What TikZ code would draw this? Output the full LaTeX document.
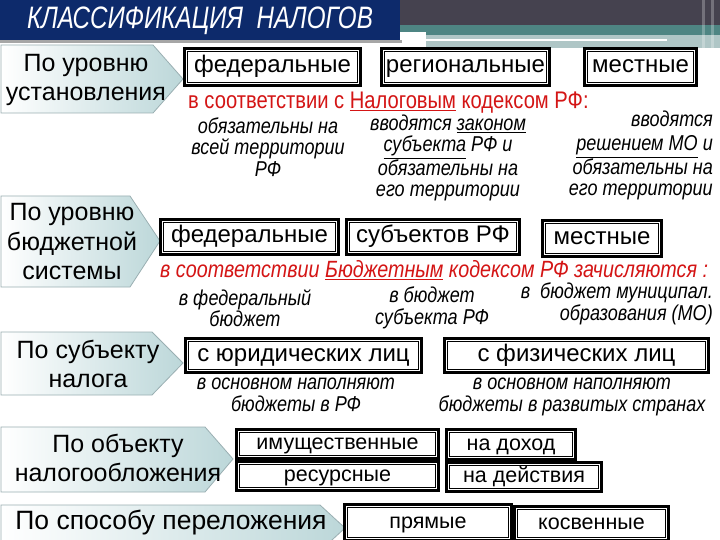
\documentclass[tikz,border=0pt]{standalone}
\usepackage{fontspec}
\setmainfont{Liberation Sans}
\newfontfamily\narrowf[FakeStretch=0.84]{Liberation Sans}
\newfontfamily\titlef[FakeStretch=0.78]{Liberation Sans}
\usetikzlibrary{calc}
\definecolor{navy}{HTML}{0D2A6B}
\definecolor{bandgray}{HTML}{45424F}
\definecolor{bandteal}{HTML}{4E8583}
\definecolor{bandlight}{HTML}{AFC6C6}
\definecolor{redtxt}{HTML}{D41515}
\definecolor{labfill}{HTML}{BCD7D9}
\definecolor{labdraw}{HTML}{9AAFB2}
\tikzset{
  boxn/.style={rectangle, draw=black, line width=0.8pt, fill=white, inner sep=0pt, text height=17pt, text depth=5pt, font=\fontsize{24}{26}\selectfont},
  boxs/.style={boxn, text height=15.5pt, text depth=4.5pt, font=\fontsize{21.5}{24}\selectfont},
  labtxt/.style={align=center, font=\fontsize{25}{29.5}\selectfont, inner sep=0pt},
  labshape/.style={draw=labdraw, line width=0.8pt, left color=white, right color=labfill},
  redn/.style={text=redtxt, inner sep=0pt, font=\narrowf\fontsize{24}{26}\selectfont},
  itn/.style={inner sep=0pt, font=\narrowf\itshape\fontsize{21.5}{21.5}\selectfont},
  outerfr/.style={line width=3pt, draw=black},
}
\begin{document}
\begin{tikzpicture}[x=1pt,y=-1pt]
\useasboundingbox (0,0) rectangle (720,540);
\fill[white] (0,0) rectangle (720,540);
% header
\fill[bandgray] (400,0) rectangle (720,25);
\fill[bandteal] (400,25) rectangle (720,35);
\fill[bandlight] (426,35) rectangle (720,48);
\fill[white] (426,39) rectangle (667,41);
\fill[white] (400,32) rectangle (426,48);
\fill[white,opacity=0.25] (702,0) rectangle (705,48);
\fill[white,opacity=0.25] (711,0) rectangle (714,48);
\fill[black!35] (0,40) rectangle (402,43);
\fill[navy] (0,0) rectangle (400,40);
\node[text=white, inner sep=0pt, font=\titlef\itshape\fontsize{31}{32}\selectfont] (title) at (200,21) {КЛАССИФИКАЦИЯ\ \ НАЛОГОВ};

% category labels
\shade[labshape] (1,45) -- (153,45) -- (183,79) -- (153,113) -- (1,113) -- cycle;
\node[labtxt] (lab1) at (86,80) {По уровню\\установления};
\shade[labshape] (1,196) -- (130,196) -- (160,241) -- (130,287) -- (1,287) -- cycle;
\node[labtxt] (lab2) at (72,242) {По уровню\\бюджетной\\системы};
\shade[labshape] (1,332) -- (152,332) -- (183,363) -- (152,395) -- (1,395) -- cycle;
\node[labtxt] (lab3) at (88,364) {По субъекту\\налога};
\shade[labshape] (1,427) -- (205,427) -- (233,459) -- (205,492) -- (1,492) -- cycle;
\node[labtxt] (lab4) at (118,458) {По объекту\\налогообложения};
\shade[labshape] (1,505) -- (320,505) -- (345,528) -- (320,551) -- (1,551) -- cycle;
\node[labtxt, font=\fontsize{26.5}{29.5}\selectfont] (lab5) at (171,523) {По способу переложения};

% row 1
\node[boxn, minimum width=170, minimum height=31] (f1) at (272.5,67) {федеральные};
\node[boxn, minimum width=162, minimum height=31] (r1) at (465.5,67) {региональные};
\node[boxn, minimum width=106, minimum height=31] (m1) at (640.5,67) {местные};
\node[redn, anchor=west] (red1) at (188,103) {в соответствии с \underline{Налоговым} кодексом РФ:};
\node[itn, align=center] (t11) at (268,147) {обязательны на\\всей территории\\РФ};
\node[itn, align=center] (t12) at (448,158) {вводятся \underline{законом}\\\underline{субъекта} РФ и\\обязательны на\\его территории};
\node[itn, anchor=east] (t13a) at (713,119) {вводятся};
\node[itn, align=right, anchor=east] (t13) at (713,168) {\underline{решением МО} и\\обязательны на\\его территории};

% row 2
\node[boxn, minimum width=172, minimum height=29] (f2) at (249.5,237) {федеральные};
\node[boxn, minimum width=167, minimum height=29] (s2) at (433,237) {субъектов РФ};
\node[boxn, minimum width=113, minimum height=30] (m2) at (602,238.5) {местные};
\node[redn, font=\narrowf\itshape\fontsize{23.5}{25}\selectfont, anchor=west] (red2) at (160,270) {в соответствии \underline{Бюджетным} кодексом РФ зачисляются :};
\node[itn, align=center] (t21) at (245,308) {в федеральный\\бюджет};
\node[itn, align=center] (t22) at (432,308) {в бюджет\\субъекта РФ};
\node[itn, align=right, anchor=east] (t23) at (713,304) {в\ \ бюджет муниципал.\\образования (МО)};

% row 3
\node[boxn, minimum width=230, minimum height=28] (ju) at (303.5,355.5) {с юридических лиц};
\node[boxn, minimum width=258, minimum height=28] (fi) at (576.5,355.5) {с физических лиц};
\node[itn, align=center] (t31) at (296,395) {в основном наполняют\\бюджеты в РФ};
\node[itn, align=center] (t32) at (572,397) {в основном наполняют\\бюджеты в развитых странах};

% row 4
\node[boxs, minimum width=196, minimum height=23] (im) at (337.5,444) {имущественные};
\node[boxs, minimum width=196, minimum height=23] (re) at (337.5,476) {ресурсные};
\node[boxs, minimum width=123, minimum height=24] (nd) at (511,444.5) {на доход};
\node[boxs, minimum width=149, minimum height=23] (nde) at (524,477) {на действия};

% row 5
\node[boxs, minimum width=161, minimum height=30] (pr) at (428,522.5) {прямые};
\node[boxs, minimum width=148, minimum height=28] (ko) at (591.5,523.5) {косвенные};

\foreach \n in {f1,r1,m1,f2,s2,m2,ju,fi,im,re,nd,nde,pr,ko}
  \draw[outerfr] ([shift={(-3pt,-3pt)}]\n.south west) rectangle ([shift={(3pt,3pt)}]\n.north east);
\end{tikzpicture}
\end{document}
